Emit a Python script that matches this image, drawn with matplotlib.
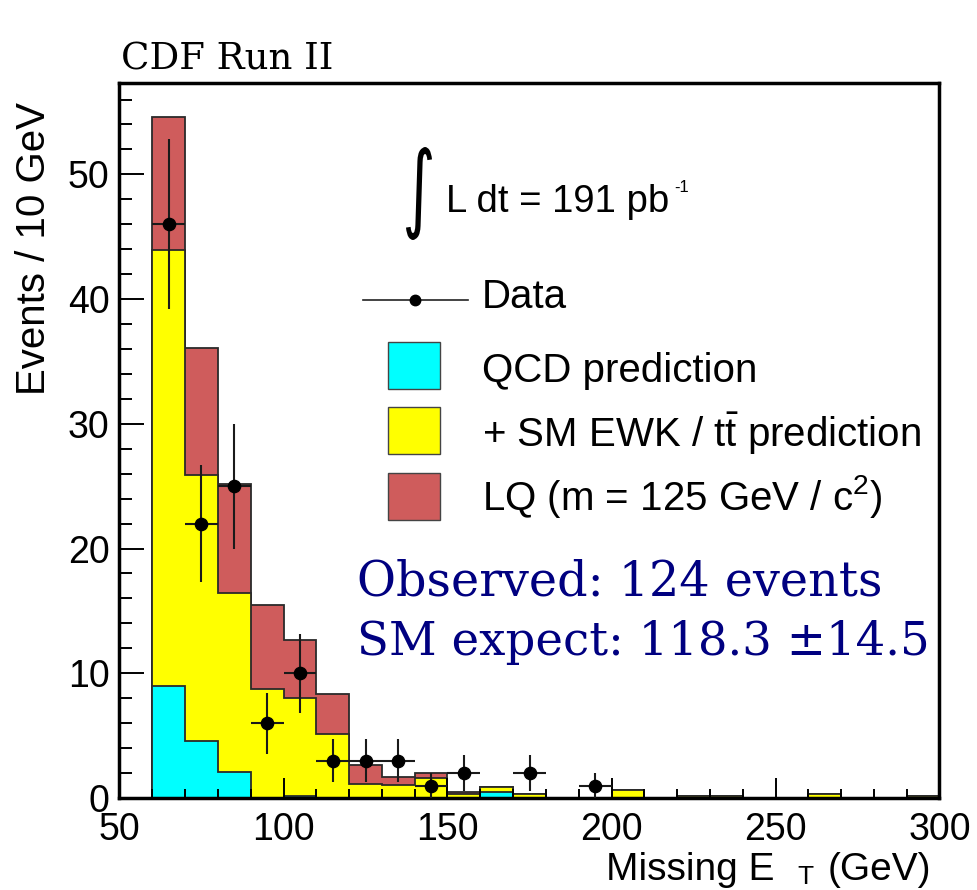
import numpy as np
import matplotlib
matplotlib.use("Agg")
import matplotlib.pyplot as plt
from matplotlib.patches import Rectangle, PathPatch
from matplotlib.lines import Line2D
from matplotlib.ticker import MultipleLocator
from matplotlib.textpath import TextPath
from matplotlib.font_manager import FontProperties
from matplotlib.transforms import Affine2D, IdentityTransform

plt.rcParams['mathtext.fontset'] = 'custom'
plt.rcParams['mathtext.rm'] = 'Liberation Sans'
plt.rcParams['mathtext.sf'] = 'Liberation Sans'
plt.rcParams['mathtext.it'] = 'Liberation Sans'

# ---------------- data ----------------
bin_edges = [60, 70, 80, 90, 100, 110, 120, 130, 140, 150, 160, 170, 180,
             190, 200, 210, 220, 230, 240, 250, 260, 270, 280, 290, 300]
qcd = [9.0, 4.6, 2.1, 0.0, 0.2, 0.0, 0.0, 0.0, 0.0, 0.0, 0.45, 0.0,
       0.0, 0.0, 0.0, 0.0, 0.0, 0.0, 0.0, 0.0, 0.0, 0.0, 0.0, 0.0]
sm_total = [43.9, 25.9, 16.4, 8.7, 8.0, 5.1, 1.1, 1.05, 1.6, 0.3, 0.9, 0.3,
            0.0, 0.0, 0.65, 0.0, 0.2, 0.2, 0.0, 0.0, 0.3, 0.0, 0.0, 0.2]
sm_plus_lq = [54.6, 36.1, 25.2, 15.5, 12.7, 8.3, 2.65, 1.7, 2.0, 0.5, 0.9, 0.3,
              0.0, 0.0, 0.65, 0.0, 0.2, 0.2, 0.0, 0.0, 0.3, 0.0, 0.0, 0.2]
data_x = [65, 75, 85, 95, 105, 115, 125, 135, 145, 155, 175, 195]
data_y = [46, 22, 25, 6, 10, 3, 3, 3, 1, 2, 2, 1]
data_err = [6.8, 4.7, 5.0, 2.45, 3.16, 1.73, 1.73, 1.73, 1.0, 1.41, 1.41, 1.0]
x_ticks = [50, 100, 150, 200, 250, 300]
y_ticks = [0, 10, 20, 30, 40, 50]

W, H = 978, 890
fig = plt.figure(figsize=(W / 100, H / 100), dpi=100)

def fx(px):
    return px / W

def fy(py):
    return 1 - py / H

ax = fig.add_axes([fx(119.5), fy(798), 820 / W, (798 - 83.3) / H])

red = '#CF5C5C'
yel = '#FFFF00'
cyan = '#00FFFF'
edge = '#2a2a2a'

ax.stairs(sm_plus_lq, bin_edges, fill=True, baseline=0, facecolor=red,
          edgecolor=edge, linewidth=1.3)
ax.stairs(sm_total, bin_edges, fill=True, baseline=0, facecolor=yel,
          edgecolor=edge, linewidth=1.3)
ax.stairs(qcd, bin_edges, fill=True, baseline=0, facecolor=cyan,
          edgecolor=edge, linewidth=1.3)

ax.errorbar(data_x, data_y, xerr=5, yerr=data_err, fmt='o', color='black',
            ecolor='#1a1a1a', elinewidth=1.5, markersize=8.8, capsize=0,
            zorder=5)

ax.set_xlim(50, 300)
ax.set_ylim(0, 57.3)
ax.set_xticks(x_ticks)
ax.set_yticks(y_ticks)
ax.xaxis.set_minor_locator(MultipleLocator(10))
ax.yaxis.set_minor_locator(MultipleLocator(2))
ax.tick_params(axis='both', which='both', direction='in', top=False,
               right=False, width=1.4, color='black')
ax.tick_params(axis='y', which='major', length=18, pad=7)
ax.tick_params(axis='y', which='minor', length=9)
ax.tick_params(axis='x', which='major', length=14.4, pad=10)
ax.tick_params(axis='x', which='minor', length=6.5)
for lab in ax.get_xticklabels() + ax.get_yticklabels():
    lab.set_fontfamily('Liberation Sans')
    lab.set_fontsize(27)
for sp in ax.spines.values():
    sp.set_linewidth(2.5)

sans = 'Liberation Sans'
serif = 'DejaVu Serif'

# titles / axis labels
fig.text(fx(121), fy(70), 'CDF Run II', family=serif, fontsize=26.7,
         ha='left', va='baseline')
fig.text(fx(45), fy(101.7), 'Events / 10 GeV', family=sans, fontsize=29,
         rotation=90, rotation_mode='anchor', ha='right', va='baseline')
fig.text(fx(606), fy(880), 'Missing E', family=sans, fontsize=28,
         ha='left', va='baseline')
fig.text(fx(797), fy(884), 'T', family=sans, fontsize=19,
         ha='left', va='baseline')
fig.text(fx(828), fy(880), '(GeV)', family=sans, fontsize=28,
         ha='left', va='baseline')

# luminosity: integral sign drawn as a glyph outline fitted to its box
tp = TextPath((0, 0), '\u222B', size=100, prop=FontProperties(family='DejaVu Sans'))
bb = tp.get_extents()
x0, x1, ytop, ybot = 406, 432, 147, 240
sx = (x1 - x0) / bb.width
sy = (ybot - ytop) / bb.height
tr = (Affine2D().translate(-bb.x0, -bb.y0).scale(sx, sy)
      .translate(x0, H - ybot))
fig.add_artist(PathPatch(tr.transform_path(tp), facecolor='black',
                         edgecolor='none', transform=IdentityTransform()))
fig.text(fx(446), fy(212.3), 'L dt = 191 pb', family=sans, fontsize=27.5,
         ha='left', va='baseline')
fig.text(fx(674), fy(192), '-1', family=sans, fontsize=12,
         ha='left', va='baseline')

# legend
fig.add_artist(Line2D([fx(363), fx(468)], [fy(299.5), fy(299.5)],
                      color='#222222', lw=1.2, transform=fig.transFigure))
fig.add_artist(Line2D([fx(415)], [fy(299.5)], marker='o', color='black',
                      markersize=7.5, transform=fig.transFigure))
fig.text(fx(482), fy(308), 'Data', family=sans, fontsize=29,
         ha='left', va='baseline')
box_tops = [342, 407, 473]
box_cols = [cyan, yel, red]
box_labels = ['QCD prediction',
              r'+ SM EWK / t$\bar{\mathrm{t}}$ prediction',
              r'LQ (m = 125 GeV / c$^{2}$)']
baselines = [381.5, 446.7, 510]
for top, col, lab, bl in zip(box_tops, box_cols, box_labels, baselines):
    fig.add_artist(Rectangle((fx(388), fy(top + 47)), 52 / W, 47 / H,
                             facecolor=col, edgecolor='#444444', lw=1.0,
                             transform=fig.transFigure))
    fig.text(fx(482), fy(bl), lab, family=sans, fontsize=29,
             ha='left', va='baseline')

# summary
navy = '#000080'
fig.text(fx(357), fy(595), 'Observed: 124 events', family=serif,
         fontsize=34.3, color=navy, ha='left', va='baseline')
fig.text(fx(357), fy(655), 'SM expect: 118.3 \u00B114.5', family=serif,
         fontsize=33.6, color=navy, ha='left', va='baseline')

fig.savefig('out.png', dpi=100)
